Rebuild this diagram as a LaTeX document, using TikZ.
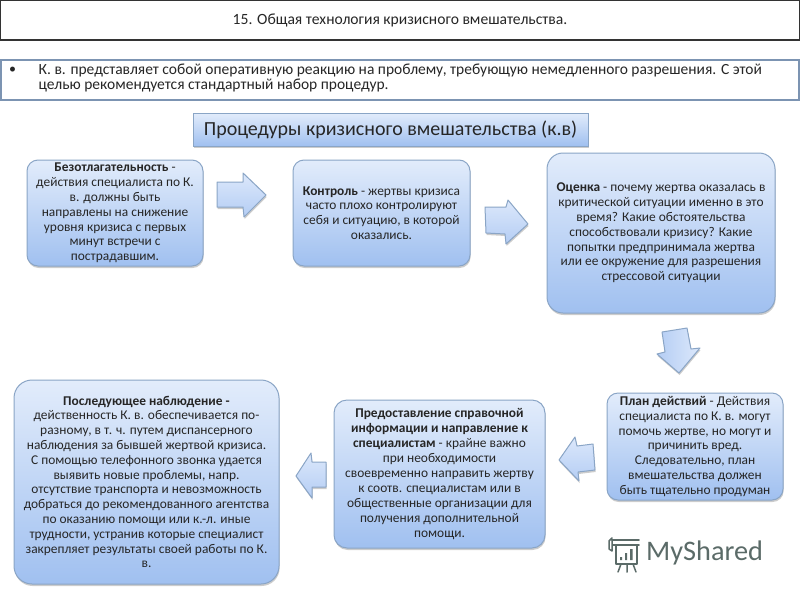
\documentclass[tikz,border=0pt]{standalone}
\usepackage{fontspec}
\setmainfont{Carlito}
\usetikzlibrary{shadows}
\definecolor{gtop}{HTML}{E2ECFB}
\definecolor{gmid}{HTML}{CADDF8}
\definecolor{gbot}{HTML}{A0C0F0}
\definecolor{atop}{HTML}{DCE8FB}
\definecolor{abot}{HTML}{B4CDF4}
\definecolor{edgeblue}{HTML}{8AA5C6}
\definecolor{txt}{HTML}{262626}
\definecolor{logogray}{HTML}{5B6B68}
\tikzset{
  softshadow/.style={drop shadow={shadow xshift=0.6pt,shadow yshift=-2pt,fill=black,opacity=0.2}},
  cbox/.style={draw=edgeblue,line width=1pt,rounded corners=#1,top color=gtop,middle color=gmid,bottom color=gbot,
    softshadow,align=center,inner sep=0pt,text=txt,font=\fontsize{13.4}{14.8}\selectfont},
  cbox/.default=11pt,
  blockarrow/.style={draw=edgeblue,line width=1pt,line join=round,left color=abot,right color=atop,softshadow},
  blockarrowv/.style={draw=edgeblue,line width=1pt,line join=round,top color=atop,bottom color=abot,softshadow},
}
\begin{document}
\begin{tikzpicture}[x=1pt,y=-1pt]
\useasboundingbox (0,0) rectangle (800,600);
\fill[white] (0,0) rectangle (800,600);
% title
\node[draw=black!80,line width=1.6pt,fill=white,minimum width=799pt,minimum height=40pt,inner sep=0pt,text=txt,
  font=\fontsize{15.6}{17}\selectfont] (title) at (400,20) {15. Общая технология кризисного вмешательства.};
% intro
\node[draw=edgeblue!90!black,line width=1.5pt,fill=white,minimum width=798pt,minimum height=40pt,inner sep=0pt] (intro) at (400,80) {};
\node[anchor=west,inner sep=0pt,text=txt,font=\fontsize{14}{15}\selectfont] (bul) at (9,70) {•};
\node[anchor=west,inner sep=0pt,align=left,text=txt,font=\fontsize{15.5}{15}\selectfont] (introtext) at (38.5,77.5)
 {К. в. представляет собой оперативную реакцию на проблему, требующую немедленного разрешения. С этой\\
  целью рекомендуется стандартный набор процедур.};
% heading
\node[draw=edgeblue,line width=1pt,top color=gtop,middle color=gmid,bottom color=gbot,softshadow,
  minimum width=395pt,minimum height=33pt,inner sep=0pt,text=black!85,font=\fontsize{20}{22}\selectfont] (head) at (390.5,129.5)
  {Процедуры кризисного вмешательства (к.в)};
% boxes
\node[cbox,minimum width=176pt,minimum height=106pt] (b1) at (115,213)
 {\textbf{Безотлагательность} -\\действия специалиста по К.\\в. должны быть\\направлены на снижение\\уровня кризиса с первых\\минут встречи с\\пострадавшим.};
\node[cbox,minimum width=177pt,minimum height=106pt] (b2) at (381.5,213)
 {\textbf{Контроль} - жертвы кризиса\\часто плохо контролируют\\себя и ситуацию, в которой\\оказались.};
\node[cbox=16pt,minimum width=228pt,minimum height=160pt] (b3) at (661,233)
 {\textbf{Оценка} - почему жертва оказалась в\\критической ситуации именно в это\\время? Какие обстоятельства\\способствовали кризису? Какие\\попытки  предпринимала жертва\\или ее окружение для разрешения\\стрессовой ситуации};
\node[cbox,minimum width=176pt,minimum height=107pt] (b4) at (695,446.5)
 {\textbf{План действий} - Действия\\специалиста по К. в. могут\\помочь жертве, но могут и\\причинить вред.\\Следовательно, план\\вмешательства должен\\быть тщательно продуман};
\node[cbox=13pt,minimum width=211pt,minimum height=148pt,font=\fontsize{13.4}{15}\selectfont] (b5) at (439.5,474)
 {\textbf{Предоставление справочной}\\\textbf{информации и направление к}\\\textbf{специалистам} - крайне важно\\при необходимости\\своевременно направить жертву\\к соотв. специалистам или в\\общественные организации для\\получения дополнительной\\помощи.};
\node[cbox=18pt,minimum width=265pt,minimum height=204pt] (b6) at (146.5,482)
 {\textbf{Последующее наблюдение -}\\действенность К. в. обеспечивается по-\\разному, в т. ч. путем диспансерного\\наблюдения за бывшей жертвой кризиса.\\С помощью телефонного звонка удается\\выявить новые проблемы, напр.\\отсутствие транспорта  и невозможность\\добраться до рекомендованного агентства\\по оказанию помощи или к.-л. иные\\трудности, устранив которые специалист\\закрепляет результаты своей работы по К.\\в.};
% block arrows
\path[blockarrowv] (217,182) -- (243,182) -- (243,173) -- (266,195) -- (244,217) -- (243,207) -- (217,207) -- cycle;
\path[blockarrowv] (485,207) -- (506,207) -- (508,200) -- (528,224) -- (506,244) -- (505,234) -- (486,233) -- cycle;
\path[blockarrow] (662,332) -- (687,328) -- (691,349) -- (700,348) -- (679,373) -- (657,354) -- (665,352) -- cycle;
\path[blockarrowv] (559,460) -- (575,437) -- (577,446) -- (593,444) -- (595,470) -- (578,472) -- (579,481) -- cycle;
\path[blockarrowv] (296,476) -- (311,453) -- (312,462) -- (326,462) -- (326,487) -- (312,487) -- (312,498) -- cycle;
% logo
\node[anchor=west,inner sep=0pt,text=logogray,font=\fontsize{28.3}{33}\selectfont] (logo) at (646,553) {MyShared};
\begin{scope}[draw=logogray,line width=1.5pt,line cap=round,line join=round]
  \draw (612,540) -- (639,540) (613,545) -- (639,545) (616,545) -- (616,564) -- (637,564) -- (637,545);
  \draw (612,538) -- (609,541) -- (609,549) -- (612,551) -- (612,540);
  \draw (621,564) -- (618,572) (627,564) -- (627,572) (633,564) -- (636,572);
\end{scope}
\fill[logogray] (620,557) rectangle (622,560) (625,553) rectangle (627,560) (630,549) rectangle (632.5,560);
\end{tikzpicture}
\end{document}
